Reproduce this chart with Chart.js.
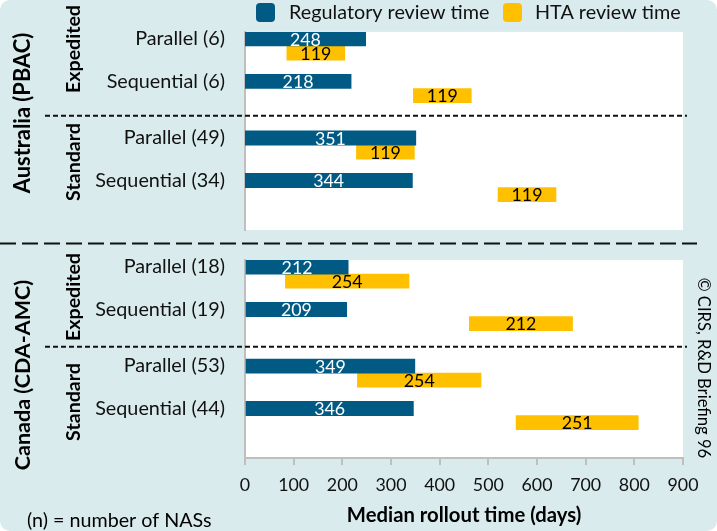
<!DOCTYPE html>
<html>
<head>
<meta charset="utf-8">
<script src="https://cdn.jsdelivr.net/npm/chart.js@4.4.1/dist/chart.umd.min.js"></script>
<style>
  body { margin: 0; background: #ffffff; }
  #panel { position: absolute; left: 0; top: 0; width: 717px; height: 531px; background: #d9ebed; border-radius: 10px; }
  canvas { position: absolute; left: 0; top: 0; }
</style>
</head>
<body>
<div id="panel"></div>
<canvas id="chartAus" width="717" height="531"></canvas>
<canvas id="chartCan" width="717" height="531"></canvas>
<script>
// median rollout times in days
const seriesNames = ['Regulatory review time', 'HTA review time'];
const seriesColors = ['#005a84', '#ffc000'];

const ausRows = ['Parallel (6)', 'Sequential (6)', 'Parallel (49)', 'Sequential (34)'];
const ausRegulatory = [248, 218, 351, 344];
const ausHtaStart = [86, 346, 229, 520];
const ausHta = [119, 119, 119, 119];

const canRows = ['Parallel (18)', 'Sequential (19)', 'Parallel (53)', 'Sequential (44)'];
const canRegulatory = [212, 209, 349, 346];
const canHtaStart = [83, 461, 231, 557];
const canHta = [254, 212, 254, 251];

const xMin = 0, xMax = 900, xStep = 100;

// each row takes two slots (regulatory bar, then HTA bar), with blank slots between
const rowSlots = [0, 3, 7, 10];
const slotCount = 14;
const FONT = 'Lato, "Open Sans", sans-serif';

// pick a font size so that a text gets the width it has in the original figure
const meas = document.createElement('canvas').getContext('2d');
function fitSize(text, width, weight) {
    meas.font = (weight || 'normal') + ' 100px ' + FONT;
    return Math.round(100 * width / meas.measureText(text).width * 10) / 10;
}
const tickSize = fitSize('Sequential (34)', 130);
const numSize = fitSize('248', 31);
const legendSize = fitSize('Regulatory review time', 201);
const titleSize = fitSize('Median rollout time (days)', 235, 'bold');
const groupSize = fitSize('Expedited', 88, 'bold');
const ausSize = fitSize('Australia (PBAC)', 161, 'bold');
const canSize = fitSize('Canada (CDA-AMC)', 190, 'bold');
const noteSize = fitSize('(n) = number of NASs', 185);
const copySize = fitSize('\u00a9 CIRS, R&D Briefing 96', 180);

function buildSlots(rows, reg, htaStart, hta) {
    const labels = new Array(slotCount).fill('');
    const regData = new Array(slotCount).fill(null);
    const htaData = new Array(slotCount).fill(null);
    rows.forEach((r, i) => {
        const s = rowSlots[i];
        labels[s] = r;
        regData[s] = [0, reg[i]];
        htaData[s + 1] = [htaStart[i], htaStart[i] + hta[i]];
    });
    return { labels, regData, htaData };
}

function vtext(ctx, text, x, y, font, rot, align) {
    ctx.save();
    ctx.translate(x, y);
    ctx.rotate(rot);
    ctx.font = font;
    ctx.fillStyle = '#000000';
    ctx.textAlign = align || 'center';
    ctx.textBaseline = 'middle';
    ctx.fillText(text, 0, 0);
    ctx.restore();
}

function dashed(ctx, x1, x2, y, dash, w) {
    ctx.save();
    ctx.strokeStyle = '#111111';
    ctx.lineWidth = w;
    ctx.setLineDash(dash);
    ctx.beginPath();
    ctx.moveTo(x1, y);
    ctx.lineTo(x2, y);
    ctx.stroke();
    ctx.restore();
}

const plotBg = {
    id: 'plotBg',
    beforeDraw(chart) {
        const a = chart.chartArea;
        chart.ctx.save();
        chart.ctx.fillStyle = '#ffffff';
        chart.ctx.fillRect(a.left, a.top, a.right - a.left, a.bottom - a.top);
        chart.ctx.restore();
    }
};

const barLabels = {
    id: 'barLabels',
    afterDatasetsDraw(chart) {
        const ctx = chart.ctx;
        ctx.save();
        ctx.font = numSize + 'px ' + FONT;
        ctx.textAlign = 'center';
        ctx.textBaseline = 'middle';
        chart.data.datasets.forEach((ds, di) => {
            const meta = chart.getDatasetMeta(di);
            meta.data.forEach((bar, i) => {
                const raw = ds.data[i];
                if (!raw) return;
                const p = bar.getProps(['x', 'y', 'base'], true);
                ctx.fillStyle = di === 0 ? '#ffffff' : '#000000';
                ctx.fillText(raw[1] - raw[0], (p.x + p.base) / 2, p.y + 1);
            });
        });
        ctx.restore();
    }
};

const ausDeco = {
    id: 'ausDeco',
    afterDraw(chart) {
        const ctx = chart.ctx;
        const y = chart.scales.y.getPixelForValue(5.5);
        dashed(ctx, 45, chart.chartArea.right + 4, y - 1, [5, 3], 2);
        vtext(ctx, 'Australia (PBAC)', 23, 113, 'bold ' + ausSize + 'px ' + FONT, -Math.PI / 2);
        vtext(ctx, 'Expedited', 74, 49, 'bold ' + groupSize + 'px ' + FONT, -Math.PI / 2);
        vtext(ctx, 'Standard', 74, 162, 'bold ' + groupSize + 'px ' + FONT, -Math.PI / 2);

        // legend
        const items = [[256, 289], [503, 535]];
        items.forEach((it, i) => {
            ctx.save();
            ctx.fillStyle = seriesColors[i];
            ctx.beginPath();
            ctx.roundRect(it[0], 3, 19, 19, 4);
            ctx.fill();
            ctx.fillStyle = '#111111';
            ctx.font = legendSize + 'px ' + FONT;
            ctx.textBaseline = 'middle';
            ctx.textAlign = 'left';
            ctx.fillText(seriesNames[i], it[1], 13);
            ctx.restore();
        });
    }
};

const canDeco = {
    id: 'canDeco',
    afterDraw(chart) {
        const ctx = chart.ctx;
        dashed(ctx, 0, 697, 243.5, [16, 6], 2);
        const y = chart.scales.y.getPixelForValue(5.5);
        dashed(ctx, 45, chart.chartArea.right + 4, y + 2, [5, 3], 2);
        vtext(ctx, 'Canada (CDA-AMC)', 23, 375, 'bold ' + canSize + 'px ' + FONT, -Math.PI / 2);
        vtext(ctx, 'Expedited', 74, 297, 'bold ' + groupSize + 'px ' + FONT, -Math.PI / 2);
        vtext(ctx, 'Standard', 74, 402, 'bold ' + groupSize + 'px ' + FONT, -Math.PI / 2);
        vtext(ctx, '\u00a9 CIRS, R&D Briefing 96', 703, 368, copySize + 'px ' + FONT, Math.PI / 2);
        vtext(ctx, '(n) = number of NASs', 27, 521, noteSize + 'px ' + FONT, 0, 'left');
    }
};

function makeChart(id, slots, showX, padding, deco) {
    return new Chart(document.getElementById(id), {
        type: 'bar',
        data: {
            labels: slots.labels,
            datasets: [
                { label: seriesNames[0], data: slots.regData, backgroundColor: seriesColors[0], grouped: false },
                { label: seriesNames[1], data: slots.htaData, backgroundColor: seriesColors[1], grouped: false }
            ]
        },
        options: {
            indexAxis: 'y',
            responsive: false,
            animation: false,
            barPercentage: 1,
            categoryPercentage: 1,
            layout: { padding: padding },
            plugins: { legend: { display: false }, tooltip: { enabled: false } },
            scales: {
                x: {
                    display: showX,
                    min: xMin,
                    max: xMax,
                    afterFit: s => { s.height = showX ? 73 : 0; },
                    border: { color: '#bfbfbf', width: 2 },
                    grid: { drawOnChartArea: false, drawTicks: true, tickLength: 7, color: '#bfbfbf', lineWidth: 2 },
                    ticks: { stepSize: xStep, color: '#111111', padding: 10, font: { family: FONT, size: numSize } },
                    title: {
                        display: true,
                        text: 'Median rollout time (days)',
                        color: '#000000',
                        font: { family: FONT, size: titleSize, weight: 'bold' },
                        padding: { top: 0, bottom: 3 }
                    }
                },
                y: {
                    afterFit: s => { s.width = 245; },
                    border: { color: '#bfbfbf', width: 2 },
                    grid: { display: false, drawTicks: false },
                    ticks: { autoSkip: false, color: '#111111', padding: 20, font: { family: FONT, size: tickSize } }
                }
            }
        },
        plugins: [plotBg, barLabels, deco]
    });
}

makeChart('chartAus', buildSlots(ausRows, ausRegulatory, ausHtaStart, ausHta), false,
    { top: 30, bottom: 301, left: 0, right: 34 }, ausDeco);
makeChart('chartCan', buildSlots(canRows, canRegulatory, canHtaStart, canHta), true,
    { top: 260, bottom: 0, left: 0, right: 34 }, canDeco);
</script>
</body>
</html>
